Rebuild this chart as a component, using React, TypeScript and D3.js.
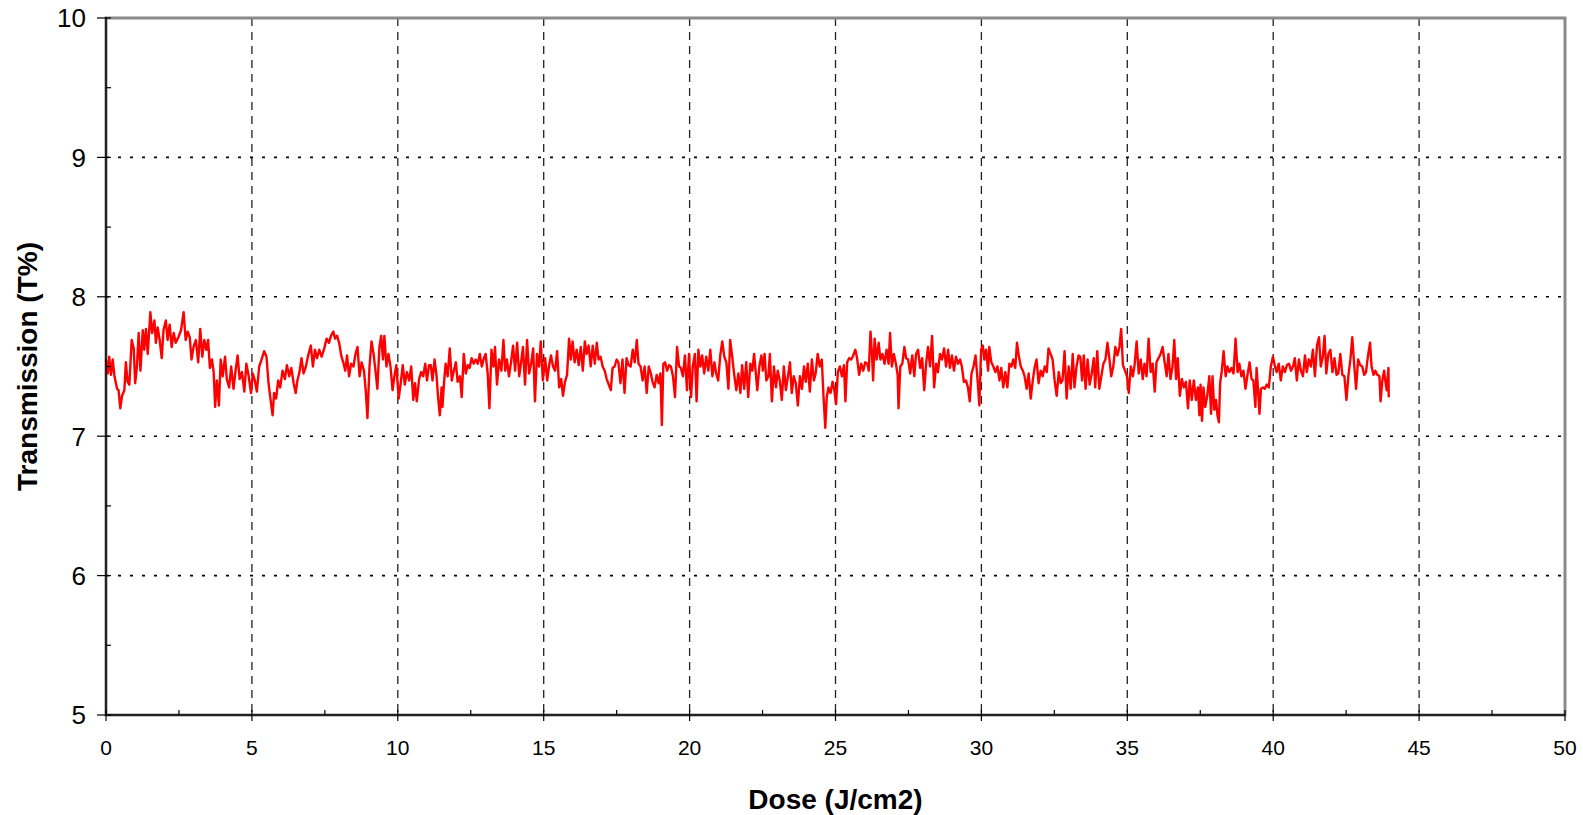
import React from 'react'
import * as d3 from 'd3'

// axis ticks
const xTicks = [0, 5, 10, 15, 20, 25, 30, 35, 40, 45, 50]
const xMinorTicks = [2.5, 7.5, 12.5, 17.5, 22.5, 27.5, 32.5, 37.5, 42.5, 47.5]
const yTicks = [5, 6, 7, 8, 9, 10]
const yMinorTicks = [5.5, 6.5, 7.5, 8.5, 9.5]

// dose (J/cm2), transmission (T%)
const samples: [number, number][] = [
  [0.00, 7.55], [0.06, 7.45], [0.11, 7.57], [0.17, 7.44], [0.23, 7.55], [0.29, 7.43], [0.38, 7.34], [0.43, 7.33],
  [0.49, 7.20], [0.55, 7.29], [0.63, 7.33], [0.68, 7.53], [0.74, 7.39], [0.80, 7.37], [0.88, 7.69], [0.95, 7.63],
  [1.00, 7.38], [1.06, 7.50], [1.12, 7.74], [1.18, 7.47], [1.26, 7.76], [1.31, 7.62], [1.37, 7.77], [1.43, 7.59],
  [1.52, 7.89], [1.58, 7.74], [1.66, 7.83], [1.71, 7.67], [1.77, 7.78], [1.84, 7.69], [1.91, 7.56], [1.97, 7.76],
  [2.05, 7.83], [2.11, 7.69], [2.18, 7.80], [2.25, 7.64], [2.32, 7.74], [2.39, 7.67], [2.48, 7.71], [2.57, 7.76],
  [2.66, 7.89], [2.73, 7.69], [2.80, 7.75], [2.87, 7.71], [2.93, 7.55], [3.00, 7.64], [3.08, 7.69], [3.16, 7.53],
  [3.23, 7.77], [3.30, 7.57], [3.37, 7.69], [3.44, 7.62], [3.50, 7.69], [3.56, 7.49], [3.63, 7.55], [3.69, 7.46],
  [3.74, 7.21], [3.80, 7.40], [3.87, 7.22], [3.93, 7.55], [4.00, 7.43], [4.08, 7.57], [4.14, 7.41], [4.22, 7.35],
  [4.29, 7.50], [4.37, 7.34], [4.44, 7.47], [4.51, 7.58], [4.58, 7.41], [4.66, 7.46], [4.74, 7.32], [4.81, 7.52],
  [4.89, 7.43], [4.97, 7.31], [5.03, 7.45], [5.10, 7.40], [5.17, 7.32], [5.25, 7.50], [5.33, 7.55], [5.42, 7.61],
  [5.50, 7.57], [5.57, 7.38], [5.64, 7.26], [5.71, 7.15], [5.76, 7.31], [5.83, 7.27], [5.90, 7.40], [5.97, 7.35],
  [6.05, 7.47], [6.13, 7.41], [6.20, 7.51], [6.28, 7.43], [6.35, 7.49], [6.43, 7.38], [6.50, 7.31], [6.56, 7.40],
  [6.63, 7.46], [6.70, 7.56], [6.77, 7.45], [6.85, 7.50], [6.93, 7.58], [7.02, 7.65], [7.09, 7.50], [7.16, 7.62],
  [7.23, 7.56], [7.31, 7.62], [7.39, 7.57], [7.48, 7.63], [7.56, 7.70], [7.64, 7.67], [7.71, 7.72], [7.79, 7.75],
  [7.85, 7.70], [7.92, 7.72], [7.99, 7.67], [8.06, 7.58], [8.13, 7.53], [8.20, 7.47], [8.26, 7.58], [8.33, 7.43],
  [8.40, 7.52], [8.48, 7.50], [8.55, 7.59], [8.62, 7.64], [8.69, 7.43], [8.76, 7.53], [8.84, 7.47], [8.90, 7.33],
  [8.96, 7.13], [9.03, 7.50], [9.10, 7.68], [9.17, 7.59], [9.24, 7.46], [9.30, 7.34], [9.37, 7.64], [9.43, 7.72],
  [9.49, 7.55], [9.54, 7.72], [9.61, 7.50], [9.68, 7.59], [9.75, 7.50], [9.82, 7.33], [9.89, 7.44], [9.95, 7.51],
  [10.03, 7.27], [10.10, 7.38], [10.17, 7.51], [10.24, 7.37], [10.31, 7.46], [10.39, 7.40], [10.46, 7.50], [10.53, 7.26],
  [10.59, 7.38], [10.65, 7.25], [10.73, 7.41], [10.80, 7.46], [10.87, 7.43], [10.94, 7.52], [11.00, 7.40], [11.07, 7.51],
  [11.13, 7.51], [11.19, 7.40], [11.26, 7.55], [11.33, 7.43], [11.38, 7.28], [11.44, 7.15], [11.50, 7.35], [11.53, 7.21],
  [11.59, 7.40], [11.64, 7.52], [11.71, 7.43], [11.78, 7.63], [11.85, 7.40], [11.92, 7.47], [11.99, 7.53], [12.05, 7.39],
  [12.13, 7.43], [12.19, 7.28], [12.26, 7.59], [12.33, 7.45], [12.40, 7.51], [12.46, 7.49], [12.53, 7.56], [12.60, 7.52],
  [12.67, 7.55], [12.74, 7.52], [12.81, 7.59], [12.88, 7.50], [12.95, 7.56], [13.01, 7.59], [13.08, 7.45], [13.14, 7.20],
  [13.21, 7.62], [13.28, 7.50], [13.33, 7.64], [13.40, 7.37], [13.47, 7.55], [13.55, 7.47], [13.62, 7.69], [13.68, 7.47],
  [13.74, 7.55], [13.81, 7.43], [13.88, 7.53], [13.95, 7.65], [14.02, 7.47], [14.09, 7.67], [14.16, 7.43], [14.22, 7.52],
  [14.29, 7.64], [14.36, 7.37], [14.43, 7.69], [14.50, 7.45], [14.57, 7.52], [14.64, 7.63], [14.70, 7.25], [14.77, 7.59],
  [14.84, 7.50], [14.90, 7.68], [14.97, 7.40], [15.05, 7.56], [15.12, 7.40], [15.18, 7.50], [15.25, 7.58], [15.32, 7.50],
  [15.39, 7.47], [15.46, 7.61], [15.53, 7.35], [15.60, 7.41], [15.66, 7.29], [15.73, 7.39], [15.80, 7.44], [15.87, 7.70],
  [15.93, 7.55], [15.99, 7.68], [16.06, 7.53], [16.13, 7.62], [16.20, 7.51], [16.27, 7.64], [16.34, 7.47], [16.41, 7.68],
  [16.47, 7.59], [16.54, 7.65], [16.61, 7.50], [16.68, 7.65], [16.75, 7.52], [16.82, 7.67], [16.88, 7.55], [16.95, 7.57],
  [17.02, 7.50], [17.09, 7.47], [17.16, 7.41], [17.23, 7.37], [17.30, 7.33], [17.36, 7.49], [17.43, 7.50], [17.50, 7.55],
  [17.56, 7.53], [17.63, 7.38], [17.70, 7.55], [17.77, 7.31], [17.84, 7.56], [17.91, 7.51], [17.98, 7.50], [18.05, 7.62],
  [18.12, 7.53], [18.19, 7.69], [18.25, 7.52], [18.32, 7.50], [18.39, 7.40], [18.46, 7.50], [18.53, 7.31], [18.60, 7.50],
  [18.66, 7.46], [18.73, 7.39], [18.80, 7.35], [18.87, 7.44], [18.94, 7.38], [19.00, 7.45], [19.05, 7.08], [19.10, 7.52],
  [19.16, 7.53], [19.23, 7.47], [19.30, 7.51], [19.36, 7.50], [19.43, 7.43], [19.50, 7.28], [19.57, 7.64], [19.64, 7.50],
  [19.70, 7.49], [19.77, 7.43], [19.84, 7.58], [19.91, 7.33], [19.98, 7.59], [20.05, 7.28], [20.11, 7.50], [20.18, 7.59],
  [20.24, 7.25], [20.30, 7.62], [20.37, 7.50], [20.43, 7.58], [20.50, 7.45], [20.57, 7.57], [20.64, 7.47], [20.71, 7.62],
  [20.78, 7.43], [20.85, 7.53], [20.91, 7.45], [20.98, 7.40], [21.05, 7.58], [21.12, 7.68], [21.19, 7.57], [21.26, 7.53],
  [21.33, 7.34], [21.39, 7.69], [21.46, 7.57], [21.53, 7.44], [21.60, 7.33], [21.67, 7.45], [21.74, 7.31], [21.80, 7.51],
  [21.87, 7.34], [21.94, 7.53], [22.01, 7.28], [22.08, 7.52], [22.15, 7.47], [22.21, 7.59], [22.32, 7.33], [22.39, 7.50],
  [22.46, 7.58], [22.51, 7.47], [22.57, 7.59], [22.63, 7.40], [22.70, 7.43], [22.75, 7.59], [22.82, 7.25], [22.89, 7.50],
  [22.96, 7.35], [23.02, 7.47], [23.09, 7.40], [23.16, 7.26], [23.23, 7.50], [23.30, 7.33], [23.37, 7.43], [23.44, 7.53],
  [23.50, 7.31], [23.57, 7.43], [23.64, 7.38], [23.71, 7.22], [23.78, 7.43], [23.85, 7.34], [23.92, 7.50], [23.98, 7.39],
  [24.05, 7.52], [24.12, 7.32], [24.19, 7.55], [24.26, 7.40], [24.32, 7.45], [24.39, 7.59], [24.46, 7.50], [24.53, 7.55],
  [24.59, 7.28], [24.65, 7.06], [24.70, 7.28], [24.76, 7.35], [24.83, 7.31], [24.90, 7.39], [24.96, 7.33], [25.02, 7.23],
  [25.08, 7.46], [25.15, 7.50], [25.22, 7.43], [25.29, 7.51], [25.34, 7.25], [25.40, 7.53], [25.47, 7.56], [25.54, 7.55],
  [25.61, 7.58], [25.68, 7.62], [25.74, 7.56], [25.81, 7.44], [25.88, 7.52], [25.95, 7.47], [26.02, 7.53], [26.09, 7.52],
  [26.14, 7.47], [26.20, 7.75], [26.25, 7.59], [26.29, 7.40], [26.34, 7.70], [26.41, 7.55], [26.48, 7.67], [26.54, 7.55],
  [26.61, 7.59], [26.68, 7.52], [26.75, 7.62], [26.82, 7.52], [26.87, 7.74], [26.93, 7.50], [27.00, 7.59], [27.07, 7.52],
  [27.13, 7.44], [27.16, 7.20], [27.22, 7.50], [27.29, 7.52], [27.36, 7.64], [27.42, 7.56], [27.49, 7.55], [27.56, 7.45],
  [27.63, 7.58], [27.70, 7.43], [27.76, 7.59], [27.83, 7.62], [27.90, 7.49], [27.97, 7.56], [28.04, 7.33], [28.11, 7.53],
  [28.17, 7.64], [28.24, 7.50], [28.31, 7.72], [28.38, 7.35], [28.45, 7.52], [28.51, 7.46], [28.58, 7.59], [28.65, 7.55],
  [28.72, 7.63], [28.79, 7.50], [28.86, 7.62], [28.92, 7.49], [28.99, 7.58], [29.06, 7.47], [29.13, 7.57], [29.20, 7.52],
  [29.27, 7.55], [29.33, 7.50], [29.40, 7.39], [29.47, 7.40], [29.54, 7.35], [29.60, 7.25], [29.66, 7.45], [29.73, 7.50],
  [29.80, 7.58], [29.87, 7.40], [29.93, 7.22], [29.99, 7.62], [30.05, 7.65], [30.10, 7.55], [30.16, 7.62], [30.23, 7.47],
  [30.27, 7.64], [30.34, 7.53], [30.41, 7.50], [30.48, 7.46], [30.55, 7.50], [30.62, 7.40], [30.68, 7.49], [30.75, 7.35],
  [30.82, 7.46], [30.89, 7.35], [30.96, 7.52], [31.03, 7.50], [31.09, 7.55], [31.16, 7.49], [31.22, 7.67], [31.28, 7.58],
  [31.35, 7.50], [31.42, 7.47], [31.48, 7.43], [31.55, 7.34], [31.62, 7.45], [31.69, 7.27], [31.76, 7.40], [31.83, 7.50],
  [31.89, 7.55], [31.96, 7.38], [32.03, 7.47], [32.10, 7.43], [32.17, 7.50], [32.24, 7.46], [32.30, 7.63], [32.37, 7.59],
  [32.44, 7.55], [32.51, 7.40], [32.58, 7.29], [32.65, 7.46], [32.72, 7.38], [32.78, 7.40], [32.85, 7.61], [32.92, 7.27],
  [32.99, 7.50], [33.06, 7.34], [33.13, 7.59], [33.19, 7.35], [33.26, 7.50], [33.33, 7.58], [33.39, 7.57], [33.45, 7.40],
  [33.51, 7.58], [33.57, 7.34], [33.64, 7.55], [33.71, 7.37], [33.78, 7.45], [33.85, 7.56], [33.90, 7.35], [33.97, 7.61],
  [34.04, 7.34], [34.11, 7.43], [34.18, 7.52], [34.25, 7.55], [34.32, 7.67], [34.39, 7.55], [34.45, 7.43], [34.52, 7.50],
  [34.59, 7.64], [34.66, 7.58], [34.73, 7.64], [34.79, 7.77], [34.85, 7.51], [34.92, 7.47], [34.99, 7.43], [35.05, 7.31],
  [35.12, 7.50], [35.19, 7.43], [35.25, 7.51], [35.32, 7.68], [35.39, 7.45], [35.46, 7.55], [35.53, 7.41], [35.59, 7.52],
  [35.66, 7.43], [35.73, 7.70], [35.80, 7.46], [35.87, 7.52], [35.94, 7.32], [36.00, 7.53], [36.07, 7.56], [36.14, 7.59],
  [36.21, 7.64], [36.28, 7.53], [36.35, 7.43], [36.41, 7.59], [36.48, 7.41], [36.55, 7.50], [36.61, 7.69], [36.67, 7.41],
  [36.73, 7.56], [36.80, 7.29], [36.87, 7.41], [36.94, 7.35], [37.01, 7.39], [37.08, 7.20], [37.14, 7.40], [37.21, 7.26],
  [37.28, 7.40], [37.35, 7.26], [37.42, 7.35], [37.47, 7.15], [37.51, 7.37], [37.56, 7.11], [37.61, 7.35], [37.67, 7.21],
  [37.74, 7.29], [37.81, 7.43], [37.87, 7.16], [37.92, 7.43], [37.98, 7.19], [38.04, 7.26], [38.09, 7.15], [38.14, 7.10],
  [38.18, 7.38], [38.24, 7.47], [38.30, 7.61], [38.37, 7.43], [38.43, 7.50], [38.50, 7.46], [38.57, 7.49], [38.64, 7.45],
  [38.71, 7.70], [38.78, 7.46], [38.84, 7.52], [38.91, 7.43], [38.98, 7.47], [39.05, 7.34], [39.12, 7.44], [39.19, 7.53],
  [39.26, 7.41], [39.32, 7.40], [39.39, 7.21], [39.43, 7.49], [39.48, 7.34], [39.53, 7.16], [39.58, 7.34], [39.65, 7.35],
  [39.71, 7.34], [39.78, 7.37], [39.85, 7.35], [39.92, 7.50], [39.99, 7.57], [40.05, 7.51], [40.12, 7.46], [40.19, 7.52],
  [40.26, 7.40], [40.33, 7.50], [40.40, 7.46], [40.47, 7.51], [40.54, 7.52], [40.61, 7.47], [40.68, 7.50], [40.74, 7.56],
  [40.81, 7.40], [40.88, 7.55], [40.95, 7.47], [41.02, 7.43], [41.09, 7.58], [41.15, 7.46], [41.22, 7.55], [41.29, 7.50],
  [41.36, 7.62], [41.43, 7.43], [41.50, 7.65], [41.57, 7.71], [41.63, 7.50], [41.70, 7.57], [41.76, 7.72], [41.82, 7.45],
  [41.89, 7.59], [41.96, 7.62], [42.03, 7.46], [42.10, 7.56], [42.17, 7.44], [42.23, 7.45], [42.30, 7.59], [42.37, 7.44],
  [42.44, 7.43], [42.51, 7.26], [42.58, 7.44], [42.65, 7.56], [42.71, 7.71], [42.78, 7.50], [42.84, 7.34], [42.91, 7.55],
  [42.98, 7.51], [43.05, 7.50], [43.12, 7.44], [43.18, 7.46], [43.25, 7.58], [43.32, 7.67], [43.37, 7.50], [43.44, 7.44],
  [43.50, 7.47], [43.57, 7.44], [43.64, 7.43], [43.68, 7.25], [43.74, 7.40], [43.80, 7.47], [43.86, 7.37], [43.89, 7.33],
  [43.95, 7.49], [43.96, 7.28],
]

const width = 1583
const height = 815
const plotLeft = 106
const plotRight = 1565
const plotTop = 18
const plotBottom = 715

const font = '"Liberation Sans", Arial, sans-serif'

const App = () => {
  const x = d3.scaleLinear().domain([0, 50]).range([plotLeft, plotRight])
  const y = d3.scaleLinear().domain([5, 10]).range([plotBottom, plotTop])

  const line = d3.line<[number, number]>()
    .x(d => x(d[0]))
    .y(d => y(d[1]))

  return (
    <div style={{ position: 'absolute', left: 0, top: 0, background: '#fff' }}>
      <svg width={width} height={height} style={{ display: 'block' }}>
        <rect x={0} y={0} width={width} height={height} fill="#fff" />

        {/* horizontal dotted grid */}
        {yTicks.filter(t => t > 5 && t < 10).map(t => (
          <line key={'gy' + t} x1={plotLeft} x2={plotRight} y1={y(t)} y2={y(t)}
            stroke="#000" strokeWidth={1.6} strokeDasharray="3,9" />
        ))}
        {/* vertical dashed grid */}
        {xTicks.filter(t => t > 0 && t < 50).map(t => (
          <line key={'gx' + t} x1={x(t)} x2={x(t)} y1={plotTop} y2={plotBottom}
            stroke="#222" strokeWidth={1.3} strokeDasharray="8,6" />
        ))}

        {/* plot area border */}
        <rect x={plotLeft} y={plotTop} width={plotRight - plotLeft} height={plotBottom - plotTop}
          fill="none" stroke="#8a8a8a" strokeWidth={3} />

        {/* series */}
        <path d={line(samples) ?? ''} fill="none" stroke="#ff0000" strokeWidth={2.4}
          strokeLinejoin="round" />

        {/* axes */}
        <line x1={plotLeft} x2={plotLeft} y1={plotTop - 1} y2={plotBottom} stroke="#000" strokeWidth={1.5} />
        <line x1={plotLeft} x2={plotRight} y1={plotBottom} y2={plotBottom} stroke="#000" strokeWidth={1.5} />

        {yTicks.map(t => (
          <g key={'yt' + t}>
            <line x1={plotLeft - 9} x2={plotLeft + 5} y1={y(t)} y2={y(t)} stroke="#000" strokeWidth={1.2} />
            <text x={86} y={y(t)} dy="0.36em" textAnchor="end" fontFamily={font} fontSize={26} fill="#000">{t}</text>
          </g>
        ))}
        {yMinorTicks.map(t => (
          <line key={'ym' + t} x1={plotLeft} x2={plotLeft + 5} y1={y(t)} y2={y(t)} stroke="#000" strokeWidth={1.2} />
        ))}

        {xTicks.map(t => (
          <g key={'xt' + t}>
            <line x1={x(t)} x2={x(t)} y1={plotBottom - 5} y2={plotBottom + 6} stroke="#000" strokeWidth={1.2} />
            <text x={x(t)} y={755} textAnchor="middle" fontFamily={font} fontSize={21} fill="#000">{t}</text>
          </g>
        ))}
        {xMinorTicks.map(t => (
          <line key={'xm' + t} x1={x(t)} x2={x(t)} y1={plotBottom - 5} y2={plotBottom} stroke="#000" strokeWidth={1.2} />
        ))}

        {/* titles */}
        <text x={(plotLeft + plotRight) / 2} y={809} textAnchor="middle" fontFamily={font}
          fontSize={28} fontWeight="bold" fill="#000">Dose (J/cm2)</text>
        <text transform={`translate(37, ${(plotTop + plotBottom) / 2}) rotate(-90)`} textAnchor="middle"
          fontFamily={font} fontSize={28} fontWeight="bold" fill="#000">Transmission (T%)</text>
      </svg>
    </div>
  )
}

export default App
